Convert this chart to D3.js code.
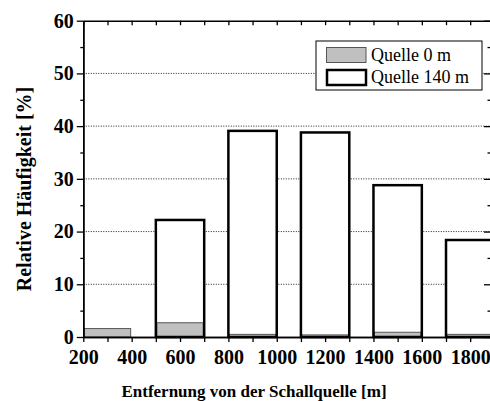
<!DOCTYPE html>
<html>
<head>
<meta charset="utf-8">
<script src="https://cdn.jsdelivr.net/npm/d3@7"></script>
<style>
  body { margin: 0; background: #fff; }
  svg { display: block; }
  text { font-family: "Liberation Serif", "Times New Roman", serif; }
</style>
</head>
<body>
<svg width="490" height="401"></svg>
<script>
// Bins (distance ranges in m)
const binStart = [200, 500, 800, 1100, 1400, 1700];
const binEnd = [400, 700, 1000, 1300, 1600, 1900];
// Relative frequency [%]
const quelle0 = [1.6, 2.7, 0.5, 0.4, 0.9, 0.5];
const quelle140 = [0, 22.2, 39.1, 38.8, 28.8, 18.4];
const seriesNames = ["Quelle 0 m", "Quelle 140 m"];
const xTicks = [200, 400, 600, 800, 1000, 1200, 1400, 1600, 1800];
const yTicks = [0, 10, 20, 30, 40, 50, 60];

const data = binStart.map((s, i) => ({ x0: s, x1: binEnd[i], a: quelle0[i], b: quelle140[i] }));

const svg = d3.select("svg");
const pLeft = 83.3, pRight = 490.5, pTop = 20.7, pBottom = 337;
const font = "Liberation Serif, Times New Roman, serif";

const x = d3.scaleLinear().domain([200, 1884]).range([pLeft, pRight]);
const y = d3.scaleLinear().domain([0, 60]).range([pBottom, pTop]);

// dotted grid lines
svg.append("g")
  .selectAll("line")
  .data(yTicks.filter(d => d > 0 && d < 60))
  .enter().append("line")
  .attr("x1", pLeft).attr("x2", pRight)
  .attr("y1", d => y(d)).attr("y2", d => y(d))
  .attr("stroke", "#222")
  .attr("stroke-width", 1)
  .attr("stroke-dasharray", "1,1.5");

// white bars (fill), gray bars, then white bar outlines
const bars = svg.append("g");
bars.selectAll(".b140")
  .data(data)
  .enter().append("rect")
  .attr("class", "b140")
  .attr("x", d => x(d.x0))
  .attr("width", d => x(d.x1) - x(d.x0))
  .attr("y", d => y(d.b))
  .attr("height", d => y(0) - y(d.b))
  .attr("fill", "#fff");

bars.selectAll(".b0")
  .data(data)
  .enter().append("rect")
  .attr("class", "b0")
  .attr("x", d => x(d.x0) + 1)
  .attr("width", d => x(d.x1) - x(d.x0) - 2)
  .attr("y", d => y(d.a))
  .attr("height", d => y(0) - y(d.a))
  .attr("fill", "#c0c0c0")
  .attr("stroke", "#555")
  .attr("stroke-width", 1);

bars.selectAll(".b140o")
  .data(data.filter(d => d.b > 0))
  .enter().append("rect")
  .attr("class", "b140o")
  .attr("x", d => x(d.x0))
  .attr("width", d => x(d.x1) - x(d.x0))
  .attr("y", d => y(d.b))
  .attr("height", d => y(0) - y(d.b))
  .attr("fill", "none")
  .attr("stroke", "#000")
  .attr("stroke-width", 2.5);

// axes
const minorX = d3.range(300, 1900, 200);
const minorY = d3.range(5, 60, 10);

function styleAxis(g) {
  g.attr("font-family", font);
  g.select(".domain").attr("stroke", "#000").attr("stroke-width", 1.5);
  g.selectAll(".tick line").attr("stroke", "#000").attr("stroke-width", 1.3);
  g.selectAll("text").attr("font-family", font).attr("font-weight", "bold")
    .attr("font-size", "20px").attr("fill", "#000");
}

// bottom
svg.append("g")
  .attr("transform", `translate(0,${pBottom})`)
  .call(d3.axisBottom(x).tickValues(xTicks).tickFormat(d3.format("d")).tickSize(5).tickSizeOuter(0).tickPadding(8))
  .call(styleAxis);
svg.append("g")
  .attr("transform", `translate(0,${pBottom})`)
  .call(d3.axisBottom(x).tickValues(minorX).tickSize(5).tickSizeOuter(0).tickFormat(""))
  .call(styleAxis);

// top (ticks pointing down into the plot)
svg.append("g")
  .attr("transform", `translate(0,${pTop})`)
  .call(d3.axisBottom(x).tickValues(xTicks.concat(minorX)).tickSize(4.5).tickSizeOuter(0).tickFormat(""))
  .call(styleAxis);

// left
svg.append("g")
  .attr("transform", `translate(${pLeft},0)`)
  .call(d3.axisLeft(y).tickValues(yTicks).tickSize(6.5).tickSizeOuter(0).tickPadding(3))
  .call(styleAxis);
svg.append("g")
  .attr("transform", `translate(${pLeft},0)`)
  .call(d3.axisLeft(y).tickValues(minorY).tickSize(3).tickSizeOuter(0).tickFormat(""))
  .call(styleAxis);

// right (ticks pointing left into the plot)
svg.append("g")
  .attr("transform", `translate(${pRight},0)`)
  .call(d3.axisLeft(y).tickValues(yTicks).tickSize(6.5).tickSizeOuter(0).tickFormat(""))
  .call(styleAxis);
svg.append("g")
  .attr("transform", `translate(${pRight},0)`)
  .call(d3.axisLeft(y).tickValues(minorY).tickSize(3).tickSizeOuter(0).tickFormat(""))
  .call(styleAxis);

// axis titles
svg.append("text")
  .attr("x", 254).attr("y", 397)
  .attr("text-anchor", "middle")
  .attr("font-family", font).attr("font-weight", "bold").attr("font-size", "17px")
  .text("Entfernung von der Schallquelle [m]");

svg.append("text")
  .attr("transform", "translate(31,189) rotate(-90)")
  .attr("text-anchor", "middle")
  .attr("font-family", font).attr("font-weight", "bold").attr("font-size", "20px")
  .text("Relative Häufigkeit [%]");

// legend
const legend = svg.append("g");
legend.append("rect")
  .attr("x", 316).attr("y", 41).attr("width", 166).attr("height", 49)
  .attr("fill", "#fff").attr("stroke", "#000").attr("stroke-width", 1);
legend.append("rect")
  .attr("x", 326.5).attr("y", 47.5).attr("width", 39.5).attr("height", 15)
  .attr("fill", "#c0c0c0").attr("stroke", "#555").attr("stroke-width", 1);
legend.append("rect")
  .attr("x", 327).attr("y", 70).attr("width", 39).attr("height", 15)
  .attr("fill", "#fff").attr("stroke", "#000").attr("stroke-width", 2.5);
legend.selectAll("text")
  .data(seriesNames)
  .enter().append("text")
  .attr("x", 371)
  .attr("y", (d, i) => 61 + i * 21.5)
  .attr("font-family", font).attr("font-size", "18px").attr("fill", "#000")
  .text(d => d);
</script>
</body>
</html>
